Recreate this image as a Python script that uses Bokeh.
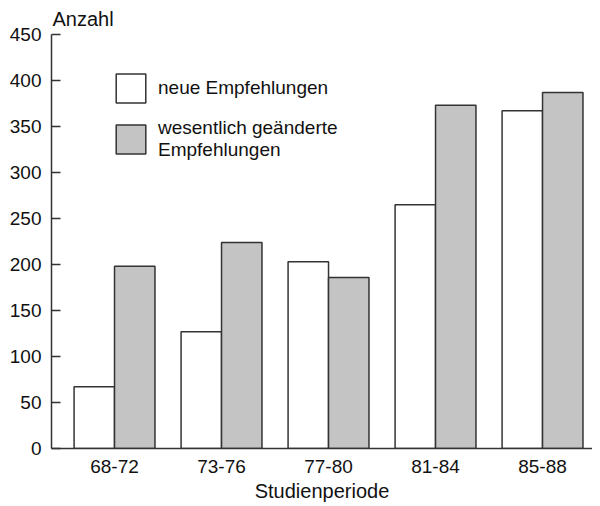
from bokeh.plotting import figure
from bokeh.models import ColumnDataSource, FixedTicker, Legend, LegendItem, Range1d
from bokeh.embed import file_html
from bokeh.resources import INLINE

periods = ["68-72", "73-76", "77-80", "81-84", "85-88"]
neue = [67, 127, 203, 265, 367]
geaendert = [198, 224, 186, 373, 387]
y_ticks = [0, 50, 100, 150, 200, 250, 300, 350, 400, 450]

FONT = "Liberation Sans"
xs = list(range(len(periods)))
bw = 0.378

src = ColumnDataSource(dict(
    x1=[x - bw / 2 for x in xs], x2=[x + bw / 2 for x in xs],
    neue=neue, geaendert=geaendert))

p = figure(width=592, height=504, output_backend="svg", toolbar_location=None,
           x_range=Range1d(-0.589, 4.467), y_range=Range1d(0, 450),
           min_border_left=51, min_border_right=0, min_border_top=33, min_border_bottom=54)
p.outline_line_color = None
p.xgrid.visible = False
p.ygrid.visible = False

r1 = p.vbar(x="x1", top="neue", width=bw, source=src, fill_color="white",
            line_color="#333333", line_width=1.5)
r2 = p.vbar(x="x2", top="geaendert", width=bw, source=src, fill_color="#c4c4c4",
            line_color="#333333", line_width=1.5)

p.title.text = "Anzahl"
p.title.text_font = FONT
p.title.text_font_size = "20px"
p.title.text_font_style = "normal"
p.title.text_color = "#111111"
p.title.align = "left"
p.title.offset = 1
p.title.standoff = 10

p.yaxis.ticker = FixedTicker(ticks=y_ticks)
p.yaxis.major_tick_in = 9
p.yaxis.major_tick_out = 0
p.yaxis.minor_tick_line_color = None
p.yaxis.major_label_standoff = 10
p.yaxis.major_label_text_font = FONT
p.yaxis.major_label_text_font_size = "19px"
p.yaxis.major_label_text_color = "#111111"
p.yaxis.axis_line_color = "#333333"
p.yaxis.axis_line_width = 1.5
p.yaxis.major_tick_line_color = "#333333"
p.yaxis.major_tick_line_width = 1.5

p.xaxis.ticker = FixedTicker(ticks=xs)
p.xaxis.major_label_overrides = {i: lab for i, lab in enumerate(periods)}
p.xaxis.major_tick_in = 0
p.xaxis.major_tick_out = 0
p.xaxis.minor_tick_line_color = None
p.xaxis.major_label_standoff = 11
p.xaxis.major_label_text_font = FONT
p.xaxis.major_label_text_font_size = "19px"
p.xaxis.major_label_text_color = "#111111"
p.xaxis.axis_line_color = "#333333"
p.xaxis.axis_line_width = 1.5
p.xaxis.axis_label = "Studienperiode"
p.xaxis.axis_label_text_font = FONT
p.xaxis.axis_label_text_font_size = "20px"
p.xaxis.axis_label_text_font_style = "normal"
p.xaxis.axis_label_text_color = "#111111"
p.xaxis.axis_label_standoff = 4

legend = Legend(items=[
    LegendItem(label="neue Empfehlungen", renderers=[r1]),
    LegendItem(label="wesentlich geänderte\nEmpfehlungen", renderers=[r2]),
], location=(61, 287))
legend.glyph_width = 37
legend.glyph_height = 36
legend.label_standoff = 9
legend.spacing = 11
legend.padding = 0
legend.margin = 0
legend.border_line_color = None
legend.background_fill_alpha = 0
legend.label_text_font = FONT
legend.label_text_font_size = "19px"
legend.label_text_color = "#111111"
legend.label_text_line_height = 0.95
p.add_layout(legend)

open("out.html", "w").write(file_html(p, INLINE))
